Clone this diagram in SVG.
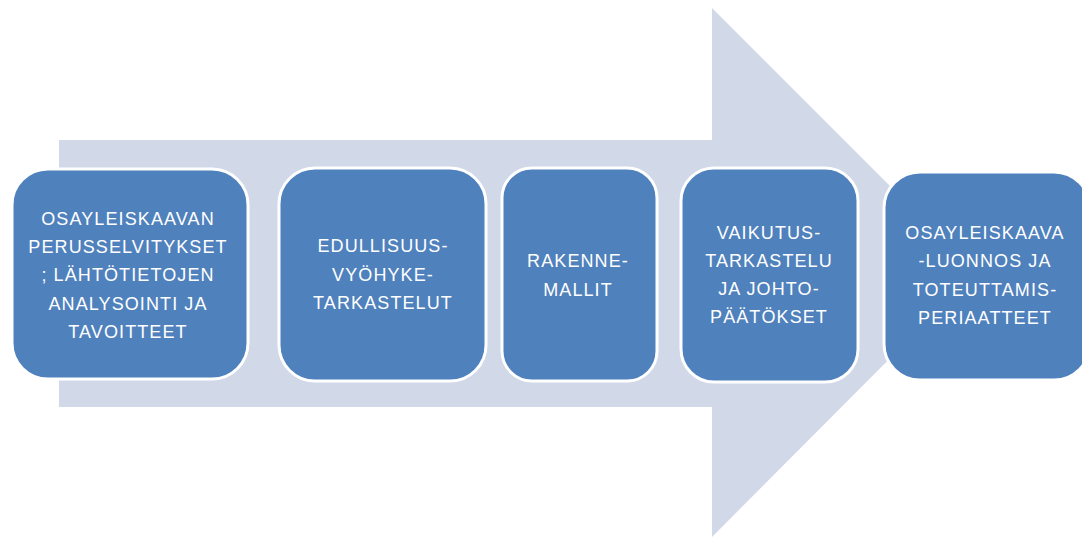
<svg xmlns="http://www.w3.org/2000/svg" width="1082" height="538" viewBox="0 0 1082 538">
<style>
.box{fill:#4f81bd;stroke:#ffffff;stroke-width:3}
.t{fill:#ffffff;font-family:"Liberation Sans",Arial,sans-serif;font-size:18px;letter-spacing:1.1px;text-anchor:middle}
</style>
<rect width="1082" height="538" fill="#ffffff"/>
<g id="arrow">
<polygon points="59,140 712,140 712,8 976,272 712,537 712,407 59,407" fill="#d1d8e8"/>
</g>
<g id="connectors"></g>
<g id="n1">
<rect class="box" x="12" y="169" width="236" height="210" rx="36"/>
<text class="t" x="128" y="225">OSAYLEISKAAVAN</text>
<text class="t" x="128" y="253">PERUSSELVITYKSET</text>
<text class="t" x="128" y="281">; LÄHTÖTIETOJEN</text>
<text class="t" x="128" y="310">ANALYSOINTI  JA</text>
<text class="t" x="128" y="338">TAVOITTEET</text>
</g>
<g id="n2">
<rect class="box" x="279" y="168" width="207" height="213" rx="36"/>
<text class="t" x="383" y="252">EDULLISUUS-</text>
<text class="t" x="383" y="281">VYÖHYKE-</text>
<text class="t" x="383" y="309">TARKASTELUT</text>
</g>
<g id="n3">
<rect class="box" x="502" y="168" width="155" height="213" rx="30"/>
<text class="t" x="578" y="267">RAKENNE-</text>
<text class="t" x="578" y="296">MALLIT</text>
</g>
<g id="n4">
<rect class="box" x="681" y="168" width="177" height="214" rx="33"/>
<text class="t" x="769" y="239">VAIKUTUS-</text>
<text class="t" x="769" y="267">TARKASTELU</text>
<text class="t" x="769" y="295">JA JOHTO-</text>
<text class="t" x="769" y="323">PÄÄTÖKSET</text>
</g>
<g id="n5">
<rect class="box" x="884" y="172" width="206" height="208" rx="36"/>
<text class="t" x="985" y="239">OSAYLEISKAAVA</text>
<text class="t" x="985" y="267">-LUONNOS JA</text>
<text class="t" x="985" y="296">TOTEUTTAMIS-</text>
<text class="t" x="985" y="324">PERIAATTEET</text>
</g>
</svg>
